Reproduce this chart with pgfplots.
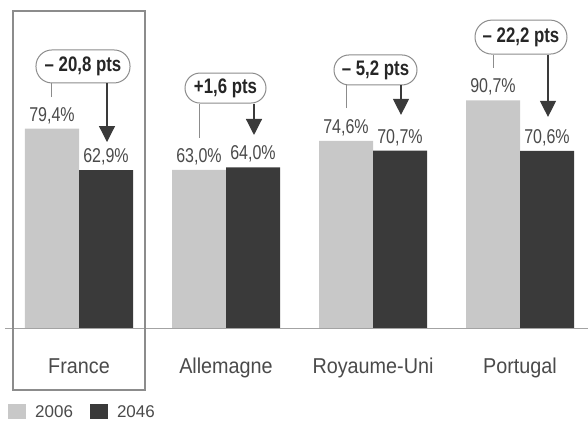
\documentclass[border=0pt]{standalone}
\usepackage{fontspec}
\setmainfont{Liberation Sans}
\newfontfamily\valfont[FakeStretch=0.8]{Liberation Sans}
\newfontfamily\catfont[FakeStretch=0.92]{Liberation Sans}
\newfontfamily\ptsfont[FakeStretch=0.8,BoldFeatures={FakeStretch=0.8}]{Liberation Sans}
\usepackage{pgfplots}
\pgfplotsset{compat=1.18}
\usetikzlibrary{arrows.meta}

\definecolor{lightbar}{HTML}{C8C8C8}
\definecolor{darkbar}{HTML}{3A3A3A}
\definecolor{txt}{HTML}{4A4A4A}
\definecolor{frame}{HTML}{8C8C8C}

\begin{document}
\begin{tikzpicture}[
    bub/.style={draw=frame, line width=1pt, fill=white, inner sep=0pt,
      text=black!85, font=\ptsfont\bfseries\fontsize{21pt}{22pt}\selectfont},
    stem/.style={draw=frame, line width=1pt},
    arr/.style={draw=darkbar, line width=1.2pt, -{Triangle[width=16pt,length=16pt]}}
  ]
\useasboundingbox (0,0) rectangle (588pt,423pt);
\begin{axis}[
    at={(5pt,95pt)}, anchor=south west,
    scale only axis, width=583pt, height=328pt,
    xmin=-0.5034, xmax=3.4626, ymin=0, ymax=130.68,
    ybar=0pt, bar width=54pt,
    clip=false,
    axis line style={draw=none},
    major tick length=0pt,
    ytick=\empty,
    xtick=data,
    xticklabels={France,Allemagne,Royaume-Uni,Portugal},
    xticklabel style={anchor=base, yshift=-45pt, text=txt,
      font=\catfont\fontsize{21.5pt}{22pt}\selectfont},
    nodes near coords={\pgfmathprintnumber[fixed,fixed zerofill,precision=1,use comma,assume math mode=true]{\pgfplotspointmeta}\%},
    every node near coord/.append style={anchor=base, yshift=7.5pt, text=txt,
      font=\valfont\fontsize{20pt}{21pt}\selectfont},
    legend columns=2,
    legend style={at={(rel axis cs:0.00515,-0.256)}, anchor=west, draw=none, fill=none,
      inner sep=0pt, text=txt, font=\fontsize{17pt}{18pt}\selectfont,
      /tikz/every odd column/.append style={column sep=7pt},
      /tikz/every even column/.append style={column sep=15pt}},
  ]
  \addplot[fill=lightbar, draw=none,
    legend image code/.code={\fill[lightbar] (0pt,-7.5pt) rectangle (18pt,7.5pt);}]
    coordinates {(0,79.4) (1,63.0) (2,74.6) (3,90.7)};
  \addplot[fill=darkbar, draw=none,
    legend image code/.code={\fill[darkbar] (0pt,-7.5pt) rectangle (18pt,7.5pt);}]
    coordinates {(0,62.9) (1,64.0) (2,70.7) (3,70.6)};
  \legend{2006,2046}

  % France
  \node[bub, minimum width=94pt, minimum height=33pt, rounded corners=16pt] (b0)
    at ([xshift=4pt]axis cs:0,104.2) {– 20,8 pts};
  \coordinate (l0) at ([xshift=-27pt]axis cs:0,92.0);
  \coordinate (a0) at ([xshift=28pt]axis cs:0,74.1);
  \draw[stem] (l0) -- (l0 |- b0.south);
  \draw[arr] (a0 |- b0.south) -- (a0);
  % Allemagne
  \node[bub, minimum width=81pt, minimum height=30pt, rounded corners=15pt] (b1)
    at ([xshift=-0.5pt]axis cs:1,95.6) {+1,6 pts};
  \coordinate (l1) at ([xshift=-27pt]axis cs:1,75.7);
  \coordinate (a1) at ([xshift=28pt]axis cs:1,76.9);
  \draw[stem] (l1) -- (l1 |- b1.south);
  \draw[arr] (a1 |- b1.south) -- (a1);
  % Royaume-Uni
  \node[bub, minimum width=83pt, minimum height=30pt, rounded corners=15pt] (b2)
    at ([xshift=2.5pt]axis cs:2,102.8) {– 5,2 pts};
  \coordinate (l2) at ([xshift=-27pt]axis cs:2,87.6);
  \coordinate (a2) at ([xshift=28pt]axis cs:2,84.9);
  \draw[stem] (l2) -- (l2 |- b2.south);
  \draw[arr] (a2 |- b2.south) -- (a2);
  % Portugal
  \node[bub, minimum width=92pt, minimum height=34pt, rounded corners=17pt] (b3)
    at ([xshift=1pt]axis cs:3,115.9) {– 22,2 pts};
  \coordinate (l3) at ([xshift=-27pt]axis cs:3,103.6);
  \coordinate (a3) at ([xshift=28pt]axis cs:3,84.1);
  \draw[stem] (l3) -- (l3 |- b3.south);
  \draw[arr] (a3 |- b3.south) -- (a3);

  % ligne de base
  \draw[frame!80, line width=1pt] (rel axis cs:0,0) -- (rel axis cs:1,0);
\end{axis}
% cadre autour de la France
\draw[frame, line width=1.2pt] (13pt,33pt) rectangle (145pt,412pt);
\end{tikzpicture}
\end{document}
